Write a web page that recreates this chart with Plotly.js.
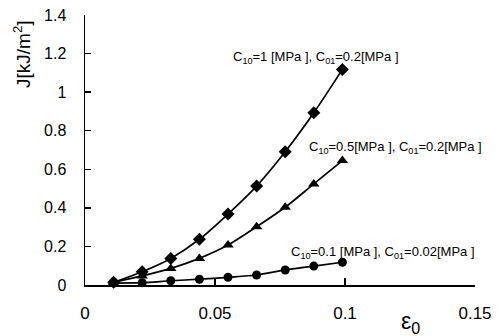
<!DOCTYPE html>
<html>
<head>
<meta charset="utf-8">
<script src="https://cdn.plot.ly/plotly-3.0.1.min.js"></script>
<style>html,body{margin:0;padding:0;background:#fff;}#chart{width:499px;height:336px;}</style>
</head>
<body>
<div id="chart"></div>
<script>
var strain = [0.011, 0.022, 0.033, 0.044, 0.055, 0.066, 0.077, 0.088, 0.099];
var jC10_1 = [0.014, 0.069, 0.138, 0.237, 0.368, 0.513, 0.691, 0.893, 1.118];
var jC10_05 = [0.014, 0.047, 0.086, 0.138, 0.207, 0.302, 0.403, 0.524, 0.645];
var jC10_01 = [0.010, 0.012, 0.022, 0.030, 0.040, 0.052, 0.078, 0.098, 0.118];
var seriesLabels = [
  "C<sub>10</sub>=1 [MPa ], C<sub>01</sub>=0.2[MPa ]",
  "C<sub>10</sub>=0.5[MPa ], C<sub>01</sub>=0.2[MPa ]",
  "C<sub>10</sub>=0.1 [MPa ], C<sub>01</sub>=0.02[MPa ]"
];
var xTicks = [0, 0.05, 0.1, 0.15];
var xTickText = ["0", "0.05", "0.1", "0.15"];
var yTicks = [0, 0.2, 0.4, 0.6, 0.8, 1, 1.2, 1.4];
var yTickText = ["0", "0.2", "0.4", "0.6", "0.8", "1", "1.2", "1.4"];

function tr(y, sym, sz) {
  return {x: strain, y: y, type: 'scatter', mode: 'lines+markers',
    line: {color: '#000', width: 1.7, shape: 'spline', smoothing: 0.8},
    marker: {symbol: sym, size: sz, color: '#000'},
    cliponaxis: false, showlegend: false, hoverinfo: 'none'};
}
var data = [tr(jC10_1, 'diamond', 10), tr(jC10_05, 'triangle-up', 10), tr(jC10_01, 'circle', 9)];
var fnt = {family: 'Liberation Sans, Arial, sans-serif', color: '#000'};
var layout = {
  width: 499, height: 336,
  margin: {l: 85, r: 24, t: 15, b: 51},
  paper_bgcolor: '#fff', plot_bgcolor: '#fff',
  font: fnt,
  xaxis: {range: [0, 0.15], tickvals: xTicks, ticktext: xTickText, showgrid: false, zeroline: false,
    showline: true, linecolor: '#000', linewidth: 1.5, ticks: 'inside', ticklen: 7, tickcolor: '#000', tickwidth: 1.5,
    tickfont: {size: 17, family: fnt.family, color: '#000'}, ticklabelstandoff: 12},
  yaxis: {range: [0, 1.4], tickvals: yTicks, ticktext: yTickText, showgrid: false, zeroline: false,
    showline: true, linecolor: '#000', linewidth: 1.5, ticks: 'inside', ticklen: 6, tickcolor: '#000', tickwidth: 1.5,
    tickfont: {size: 16, family: fnt.family, color: '#000'}, ticklabelstandoff: 14},
  annotations: [
    {text: seriesLabels[0], x: 316, y: 57, font: {size: 13}},
    {text: seriesLabels[1], x: 395, y: 147, font: {size: 13}},
    {text: seriesLabels[2], x: 383, y: 252, font: {size: 13}},
    {text: "J[kJ/m<sup>2</sup>]", x: 22, y: 54, textangle: -90, font: {size: 19}},
    {text: "ε<sub>0</sub>", x: 410, y: 322, font: {size: 23}}
  ]
};
// convert pixel positions to paper coords
var pw = 499 - 85 - 24, ph = 336 - 15 - 51;
layout.annotations.forEach(function(a){
  a.showarrow = false;
  a.xref = 'paper'; a.yref = 'paper';
  a.x = (a.x - 85) / pw; a.y = (336 - 51 - a.y) / ph;
  a.xanchor = 'center'; a.yanchor = 'middle';
});
Plotly.newPlot('chart', data, layout, {displayModeBar: false, staticPlot: true});
</script>
</body>
</html>
